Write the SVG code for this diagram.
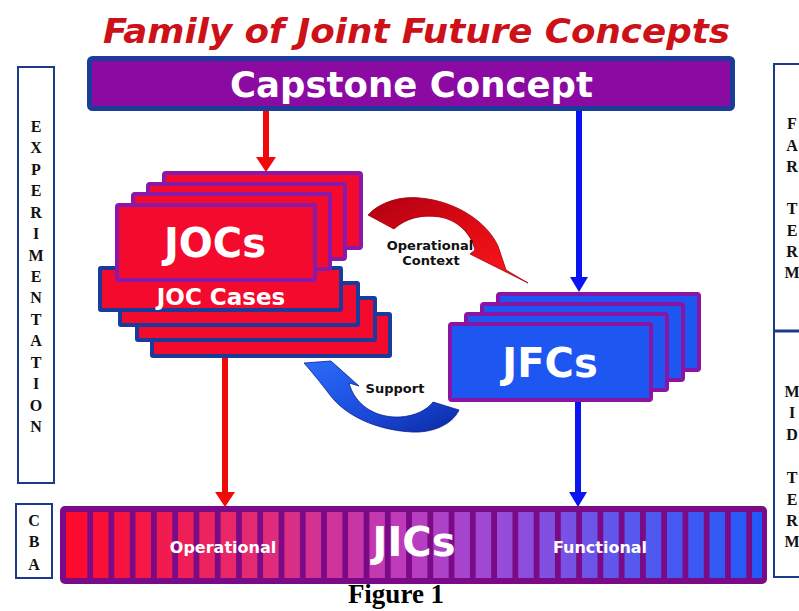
<svg xmlns="http://www.w3.org/2000/svg" width="799" height="611" viewBox="0 0 799 611">
<style>
.side{fill:none;stroke:#1c3a8a;stroke-width:2}
.sl{font-family:"Liberation Serif","Times New Roman",serif;font-weight:bold;font-size:16px;fill:#111;text-anchor:middle}
.wt{font-family:"DejaVu Sans",Verdana,sans-serif;font-weight:bold;fill:#fff;text-anchor:middle}
.lbl{font-family:"DejaVu Sans",Verdana,sans-serif;font-weight:bold;font-size:13px;fill:#111;text-anchor:middle}
.joc{fill:#f40a2c;stroke:#8a18a8;stroke-width:4}
.case{fill:#f40a2c;stroke:#1a3a9c;stroke-width:4}
.jfc{fill:#1e56f2;stroke:#8a14a4;stroke-width:4}
.rl{stroke:#f00a0a;stroke-width:6;fill:none}
.bl{stroke:#0a14f0;stroke-width:6;fill:none}
</style>
<defs>
<marker id="hr" markerUnits="userSpaceOnUse" markerWidth="16" markerHeight="20" refX="0" refY="10" orient="auto"><path d="M0,0 L15,10 L0,20 Z" fill="#f00a0a"/></marker>
<marker id="hb" markerUnits="userSpaceOnUse" markerWidth="16" markerHeight="20" refX="0" refY="9" orient="auto"><path d="M0,0 L15,9 L0,18 Z" fill="#0a14f0"/></marker>
<linearGradient id="jicGrad" gradientUnits="userSpaceOnUse" x1="60" y1="0" x2="767" y2="0">
<stop offset="0" stop-color="#ff0828"/>
<stop offset="0.25" stop-color="#e8286a"/>
<stop offset="0.47" stop-color="#c03ab8"/>
<stop offset="0.62" stop-color="#9a4ad8"/>
<stop offset="0.8" stop-color="#5a58ee"/>
<stop offset="1" stop-color="#1e5af8"/>
</linearGradient>
<pattern id="gaps" patternUnits="userSpaceOnUse" x="87.24" y="0" width="21.26" height="100">
<rect x="0" y="0" width="5.8" height="100" fill="#7a0a86"/>
</pattern>
<linearGradient id="redArc" x1="0" y1="0" x2="1" y2="1">
<stop offset="0" stop-color="#b00012"/>
<stop offset="0.5" stop-color="#e00a14"/>
<stop offset="1" stop-color="#ff1a1a"/>
</linearGradient>
<linearGradient id="blueArc" x1="0" y1="0" x2="1" y2="1">
<stop offset="0" stop-color="#2a6cf8"/>
<stop offset="0.6" stop-color="#1a48d8"/>
<stop offset="1" stop-color="#0a28a0"/>
</linearGradient>
</defs>
<rect width="799" height="611" fill="#fff"/>

<text x="416.5" y="43" font-family="'DejaVu Sans',Verdana,sans-serif" font-weight="bold" font-style="italic" font-size="34" fill="#cc1118" text-anchor="middle" textLength="627" lengthAdjust="spacingAndGlyphs">Family of Joint Future Concepts</text>

<g id="experimentation">
<rect class="side" x="18" y="67" width="36" height="416"/>
<text class="sl"><tspan x="36" y="132">E</tspan><tspan x="36" y="153.4">X</tspan><tspan x="36" y="174.9">P</tspan><tspan x="36" y="196.3">E</tspan><tspan x="36" y="217.7">R</tspan><tspan x="36" y="239.2">I</tspan><tspan x="36" y="260.6">M</tspan><tspan x="36" y="282">E</tspan><tspan x="36" y="303.4">N</tspan><tspan x="36" y="324.9">T</tspan><tspan x="36" y="346.3">A</tspan><tspan x="36" y="367.7">T</tspan><tspan x="36" y="389.2">I</tspan><tspan x="36" y="410.6">O</tspan><tspan x="36" y="432">N</tspan></text>
</g>
<g id="cba">
<rect class="side" x="16" y="504" width="36" height="74"/>
<text class="sl"><tspan x="34" y="526">C</tspan><tspan x="34" y="547">B</tspan><tspan x="34" y="570">A</tspan></text>
</g>
<g id="terms">
<rect class="side" x="774" y="64" width="40" height="513"/>
<line x1="774" y1="331" x2="799" y2="331" stroke="#1c3a8a" stroke-width="3"/>
<text class="sl"><tspan x="792" y="129">F</tspan><tspan x="792" y="150.5">A</tspan><tspan x="792" y="172">R</tspan><tspan x="792" y="214">T</tspan><tspan x="792" y="235.5">E</tspan><tspan x="792" y="257">R</tspan><tspan x="792" y="278">M</tspan></text>
<text class="sl"><tspan x="792" y="397">M</tspan><tspan x="792" y="418">I</tspan><tspan x="792" y="440">D</tspan><tspan x="792" y="483">T</tspan><tspan x="792" y="505">E</tspan><tspan x="792" y="526">R</tspan><tspan x="792" y="547">M</tspan></text>
</g>

<g id="connectors">
<line class="rl" x1="266" y1="111" x2="266" y2="157" marker-end="url(#hr)"/>
<line class="bl" x1="579" y1="111" x2="579" y2="277" marker-end="url(#hb)"/>
<line class="rl" x1="225" y1="356" x2="225" y2="492" marker-end="url(#hr)"/>
<line class="bl" x1="578" y1="400" x2="578" y2="492" marker-end="url(#hb)"/>
<g id="opContext">
<path d="M368,215 C380,202 400,196 420,198 C456,201 487,222 498,246 L506,270 L528,283 L470,254 L475,250 C471,233 457,220 440,217 C420,214 405,219 394,229 Z" fill="url(#redArc)" stroke="#9a0010" stroke-width="0.8"/>
<text class="lbl" x="430" y="250">Operational</text>
<text class="lbl" x="431" y="265">Context</text>
</g>
<g id="support">
<path d="M304,363 L331,361 L359,386 L349,383 C355,405 375,418 400,417 C415,416 427,410 433,402 L459,410 C452,425 432,433 412,432 C375,430 345,415 330,395 C320,382 312,372 304,363 Z" fill="url(#blueArc)" stroke="#0a2090" stroke-width="0.8"/>
<text class="lbl" x="395" y="393">Support</text>
</g>
</g>

<g id="capstone">
<rect x="89.5" y="58.5" width="643" height="50" rx="3" fill="#8a0aa2" stroke="#1c3c9a" stroke-width="5"/>
<text class="wt" x="411.5" y="97" font-size="36" textLength="363" lengthAdjust="spacingAndGlyphs">Capstone Concept</text>
</g>

<g id="joc-cases">
<rect class="case" x="152" y="314" width="238" height="42" rx="1"/>
<rect class="case" x="137" y="298" width="238" height="42" rx="1"/>
<rect class="case" x="120" y="283" width="238" height="42" rx="1"/>
<rect class="case" x="100" y="268" width="241" height="42" rx="1"/>
<text class="wt" x="221" y="305" font-size="23">JOC Cases</text>
</g>

<g id="jocs">
<rect class="joc" x="164" y="173" width="197" height="75" rx="2"/>
<rect class="joc" x="148" y="184" width="197" height="75" rx="2"/>
<rect class="joc" x="133" y="194" width="197" height="75" rx="2"/>
<rect class="joc" x="117" y="205" width="198" height="75" rx="2"/>
<text class="wt" x="215" y="257" font-size="40">JOCs</text>
</g>

<g id="jfcs">
<rect class="jfc" x="498" y="294" width="201" height="76" rx="2"/>
<rect class="jfc" x="482" y="304" width="201" height="76" rx="2"/>
<rect class="jfc" x="466" y="314" width="201" height="76" rx="2"/>
<rect class="jfc" x="450" y="324" width="201" height="76" rx="2"/>
<text class="wt" x="550" y="377" font-size="40">JFCs</text>
</g>

<g id="jics">
<rect x="60" y="506" width="707" height="78" rx="5" fill="#7a0a86"/>
<rect x="66" y="512" width="696" height="66" fill="url(#jicGrad)"/>
<rect x="87.24" y="512" width="674.76" height="66" fill="url(#gaps)"/>
<text class="wt" x="223" y="553" font-size="16">Operational</text>
<text class="wt" x="414" y="556" font-size="40">JICs</text>
<text class="wt" x="600" y="553" font-size="16">Functional</text>
</g>

<text x="396" y="603" font-family="'Liberation Serif','Times New Roman',serif" font-weight="bold" font-size="27" fill="#000" text-anchor="middle">Figure 1</text>
</svg>
